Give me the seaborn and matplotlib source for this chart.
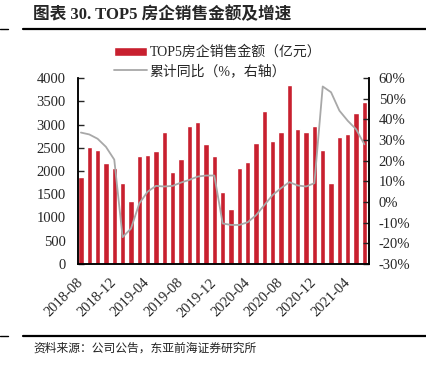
import numpy as np
import pandas as pd
import matplotlib
matplotlib.use("Agg")
import matplotlib.pyplot as plt
from matplotlib.lines import Line2D
import seaborn as sns

months = pd.date_range("2018-08-01", "2021-06-01", freq="MS").strftime("%Y-%m").tolist()
sales = [1881, 2506, 2441, 2162, 2061, 1745, 1350, 2312, 2348, 2434,
         2829, 1989, 2262, 2958, 3045, 2578, 2312, 1558, 1178, 2075,
         2190, 2600, 3282, 2635, 2843, 3856, 2900, 2843, 2968, 2452,
         1745, 2736, 2793, 3245, 3489]
yoy = [33.6, 32.7, 30.6, 26.7, 20.5, -17.0, -12.9, -0.7, 5.0, 7.8,
       7.5, 7.8, 9.4, 10.7, 12.3, 12.8, 12.8, -10.4, -11.1, -11.1,
       -9.8, -6.4, -1.5, 3.4, 6.7, 9.6, 8.0, 7.5, 9.1, 55.9,
       53.1, 44.2, 39.3, 35.2, 27.9]
shown_ticks = ["2018-08", "2018-12", "2019-04", "2019-08", "2019-12",
               "2020-04", "2020-08", "2020-12", "2021-04"]

df = pd.DataFrame({"month": months, "sales": sales, "yoy": yoy})
df["pos"] = np.arange(len(df))

sns.set_style("ticks")
cjk = ["Noto Sans CJK SC", "DejaVu Sans"]
mixed = ["Liberation Serif", "Noto Sans CJK SC"]
plt.rcParams["font.family"] = "serif"
plt.rcParams["font.serif"] = ["Liberation Serif", "DejaVu Serif"]

red = "#C8202F"
grey = "#A8A8A8"

fig = plt.figure(figsize=(4.27, 3.65), dpi=100)
ax = fig.add_axes([78 / 427, 1 - 264 / 365, 291 / 427, 186 / 365])
ax2 = ax.twinx()

sns.barplot(data=df, x="month", y="sales", color=red, width=0.64,
            saturation=1, ax=ax, label="TOP5房企销售金额（亿元）")
sns.lineplot(data=df, x="pos", y="yoy", color=grey, linewidth=1.3,
             ax=ax2, label="累计同比（%，右轴）")

ax.set_xlim(-0.35, len(df) - 0.45)
ax.set_ylim(0, 4000)
ax.set_yticks(np.arange(0, 4001, 500))
ax2.set_ylim(-30, 60)
ax2.set_yticks(np.arange(-30, 61, 10))
ax2.set_yticklabels([f"{v}%" for v in range(-30, 61, 10)])

tick_pos = [months.index(m) for m in shown_ticks]
ax.set_xticks(tick_pos)
ax.set_xticklabels(shown_ticks, rotation=45, ha="right", va="center",
                   rotation_mode="anchor")
ax.tick_params(axis="x", length=0, pad=12, labelsize=10.5)
ax.tick_params(axis="y", direction="in", length=4, width=1, pad=9,
               labelsize=10.5)
ax2.tick_params(axis="y", direction="in", length=4, width=1, pad=7,
                labelsize=10.5)
for lab in ax.get_xticklabels() + ax.get_yticklabels() + ax2.get_yticklabels():
    lab.set_fontfamily("Liberation Serif")
for a in (ax, ax2):
    a.set_xlabel("")
    a.set_ylabel("")
    a.spines["top"].set_visible(False)
    for s in ("left", "right", "bottom"):
        a.spines[s].set_linewidth(1.1)
        a.spines[s].set_color("black")

h1, l1 = ax.get_legend_handles_labels()
h2, l2 = ax2.get_legend_handles_labels()
if ax2.get_legend():
    ax2.get_legend().remove()
if ax.get_legend():
    ax.get_legend().remove()
leg = fig.legend(h1 + h2, l1 + l2, loc="upper left",
                 bbox_to_anchor=(108 / 427, 1 - 40 / 365), frameon=False,
                 handlelength=2.4, handleheight=0.6, labelspacing=0.35,
                 handletextpad=0.2, borderaxespad=0,
                 prop={"family": mixed, "size": 10})

fig.text(33 / 427, 1 - 15 / 365, "图表 30. TOP5 房企销售金额及增速",
         family=mixed, fontsize=12, fontweight="bold", va="center")
fig.add_artist(Line2D([23 / 427, 1], [1 - 28.5 / 365] * 2, color="black", lw=1.6))
fig.add_artist(Line2D([0, 8 / 427], [1 - 28.5 / 365] * 2, color="black", lw=1.0))
fig.add_artist(Line2D([23 / 427, 1], [1 - 336 / 365] * 2, color="black", lw=1.6))
fig.add_artist(Line2D([0, 8 / 427], [1 - 336 / 365] * 2, color="black", lw=1.0))
fig.text(33 / 427, 1 - 348 / 365, "资料来源：公司公告，东亚前海证券研究所",
         family=cjk, fontsize=8.5, va="center", color="#222222")

fig.savefig("out.png", dpi=100)
